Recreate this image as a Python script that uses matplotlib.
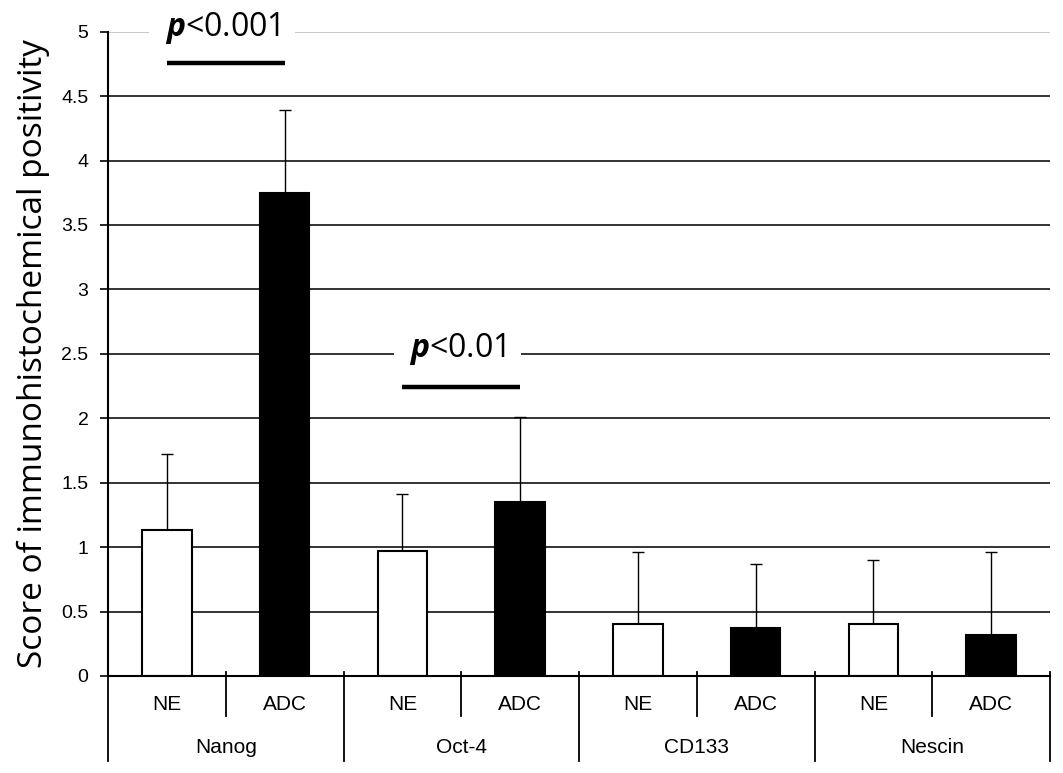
import numpy as np
import matplotlib.pyplot as plt
import matplotlib.transforms as mtransforms

plt.rcParams['mathtext.fontset'] = 'custom'
plt.rcParams['mathtext.it'] = 'Open Sans:italic:bold'
plt.rcParams['mathtext.rm'] = 'Open Sans'

# values
markers = ['Nanog', 'Oct-4', 'CD133', 'Nescin']
groups = ['NE', 'ADC']
ne_mean = [1.13, 0.97, 0.40, 0.40]
ne_err = [0.59, 0.44, 0.56, 0.50]
adc_mean = [3.75, 1.35, 0.37, 0.32]
adc_err = [0.64, 0.66, 0.50, 0.64]
yticks = [0, 0.5, 1, 1.5, 2, 2.5, 3, 3.5, 4, 4.5, 5]
ytick_labels = ['0', '0.5', '1', '1.5', '2', '2.5', '3', '3.5', '4', '4.5', '5']

fig = plt.figure(figsize=(10.63, 7.73), dpi=100)
ax = fig.add_axes([0.1016, 0.1255, 0.8862, 0.8335])

n = len(markers)
ne_x = np.arange(n) * 2 + 0.5
adc_x = np.arange(n) * 2 + 1.5
w = 0.42

# gridlines
for y in yticks[1:-1]:
    ax.axhline(y, color='#333333', lw=1.4, zorder=1)
ax.axhline(5, color='#c8c8c8', lw=1.4, zorder=1)

ax.bar(ne_x, ne_mean, w, color='white', edgecolor='black', lw=1.5, zorder=3)
ax.bar(adc_x, adc_mean, w, color='black', edgecolor='black', lw=1.5, zorder=3)
ax.errorbar(ne_x, ne_mean, yerr=[np.zeros(n), ne_err], fmt='none',
            ecolor='black', elinewidth=1, capsize=4, capthick=1, zorder=2)
ax.errorbar(adc_x, adc_mean, yerr=[np.zeros(n), adc_err], fmt='none',
            ecolor='black', elinewidth=1, capsize=4, capthick=1, zorder=2)

ax.set_xlim(0, 2 * n)
ax.set_ylim(0, 5)
ax.set_yticks(yticks)
ax.set_yticklabels(ytick_labels, fontfamily='Liberation Sans', fontsize=14)
ax.tick_params(axis='y', direction='out', length=6, width=1.2, pad=8)
ax.set_xticks([])
for s in ['top', 'right']:
    ax.spines[s].set_visible(False)
ax.spines['left'].set_linewidth(1.5)
ax.spines['bottom'].set_linewidth(1.5)
ax.spines['bottom'].set_zorder(4)

# two-level category axis
trans = mtransforms.blended_transform_factory(ax.transData, ax.transAxes)
px = 1.0 / (0.8335 * 773)
for i in range(2 * n + 1):
    depth = 85 if i % 2 == 0 else 40
    ax.plot([i, i], [4 * px, -depth * px], color='black', lw=1.3,
            transform=trans, clip_on=False)
for i in range(n):
    ax.text(ne_x[i], -29 * px, groups[0], transform=trans, ha='center', va='center',
            fontsize=15, fontfamily='Liberation Sans')
    ax.text(adc_x[i], -29 * px, groups[1], transform=trans, ha='center', va='center',
            fontsize=15, fontfamily='Liberation Sans')
    ax.text(2 * i + 1, -72 * px, markers[i], transform=trans, ha='center', va='center',
            fontsize=15, fontfamily='Liberation Sans')

ax.set_ylabel('Score of immunohistochemical positivity', fontfamily='Open Sans',
              fontsize=24, labelpad=8)

# significance marks
def sig(x0, x1, ybar, ytext, label):
    ax.plot([x0, x1], [ybar, ybar], color='black', lw=3.2, solid_capstyle='butt',
            zorder=5, clip_on=False)
    ax.text((x0 + x1) / 2 - 0.03, ytext, label, ha='center', va='center', fontsize=23,
            fontfamily='Open Sans', zorder=4, clip_on=False,
            bbox=dict(facecolor='white', edgecolor='none', pad=11))

sig(ne_x[0], adc_x[0], 4.76, 5.03, r'$p$<0.001')
sig(ne_x[1], adc_x[1], 2.24, 2.54, r'$p$<0.01')

fig.savefig('out.png', dpi=100)
